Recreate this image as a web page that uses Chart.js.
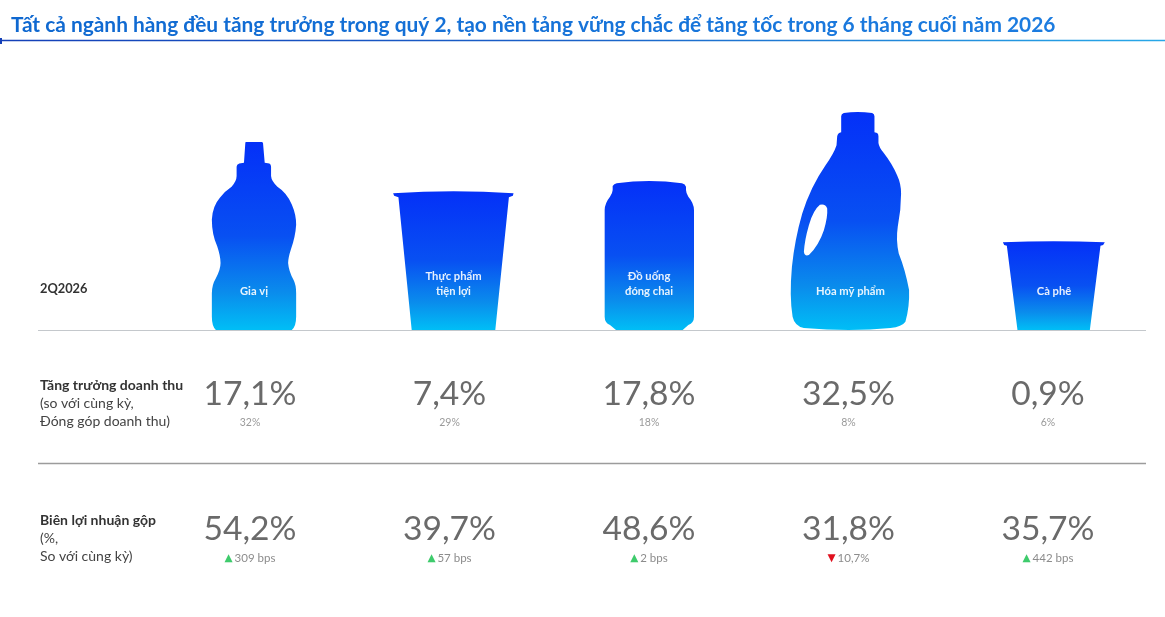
<!DOCTYPE html>
<html lang="vi">
<head>
<meta charset="utf-8">
<title>2Q2026</title>
<style>
  html, body { margin: 0; padding: 0; background: #fff; overflow: hidden; }
  canvas { display: block; filter: blur(0.4px); }
</style>
<script src="https://cdn.jsdelivr.net/npm/chart.js@4"></script>
</head>
<body>
<canvas id="chart_nganh" width="1165" height="617"></canvas>
<script>
  const titulo = 'Tất cả ngành hàng đều tăng trưởng trong quý 2, tạo nền tảng vững chắc để tăng tốc trong 6 tháng cuối năm 2026';
  const categories = ['Gia vị', 'Thực phẩm tiện lợi', 'Đồ uống đóng chai', 'Hóa mỹ phẩm', 'Cà phê'];
  const categoryLines = [['Gia vị'], ['Thực phẩm', 'tiện lợi'], ['Đồ uống', 'đóng chai'], ['Hóa mỹ phẩm'], ['Cà phê']];
  const bottleLevels = [188, 139, 149, 218, 89];
  const revenueGrowth = [17.1, 7.4, 17.8, 32.5, 0.9];
  const revenueShare = [32, 29, 18, 8, 6];
  const grossMargin = [54.2, 39.7, 48.6, 31.8, 35.7];
  const marginChange = ['309 bps', '57 bps', '2 bps', '10,7%', '442 bps'];
  const marginDirection = [1, 1, 1, -1, 1];

  const periodLabel = '2Q2026';
  const growthLabel = ['Tăng trưởng doanh thu', '(so với cùng kỳ,', 'Đóng góp doanh thu)'];
  const marginLabel = ['Biên lợi nhuận gộp', '(%,', 'So với cùng kỳ)'];

  // silhouettes, scaled to each bar's height
  const shapes = [
    { cx: 192, base: 600, top: 38, dx: 4, d: 'M168 38 L215 38 Q218 38 219 42 L224 100 L238 102 Q243 104 243 112 L243 140 Q244 155 262 172 Q290 190 305 225 Q318 255 318 285 Q316 320 302 360 Q294 385 294 400 Q296 425 310 450 Q318 465 318 490 L318 560 Q318 590 305 600 L78 600 Q66 590 66 560 L66 490 Q66 465 78 445 Q92 420 92 400 Q92 380 82 350 Q66 315 66 270 Q68 230 90 205 Q105 185 125 172 Q140 155 140 140 L140 112 Q140 104 148 102 L162 100 L166 42 Q166 38 168 38 Z' },
    { cx: 789, base: 600, top: 181, dx: 4, d: 'M607 188 Q790 176 970 188 L968 195 L956 200 L915 600 L663 600 L623 200 L610 195 Z' },
    { cx: 177, base: 690, top: 243, dx: 0, d: 'M68 258 Q72 252 80 250 Q178 236 276 250 Q286 252 288 260 L288 270 Q288 278 295 290 Q312 310 312 330 L312 650 Q312 668 295 675 L278 690 L78 690 L60 675 Q44 668 44 650 L44 330 Q44 310 60 290 Q68 278 68 270 Z' },
    { cx: 780, base: 690, top: 35, dx: 2, d: 'M760 38 Q800 32 845 38 Q852 40 852 48 L852 96 L860 98 Q864 100 864 108 L864 128 Q866 142 880 158 Q905 190 920 225 Q932 250 932 280 Q932 330 922 380 Q916 420 925 460 Q945 510 956 570 Q958 620 945 665 Q935 680 900 684 Q780 696 640 684 Q612 678 606 650 Q596 590 604 500 Q612 420 635 340 Q660 260 705 195 Q730 160 738 135 L740 108 Q742 98 752 96 L752 48 Q752 40 760 38 Z M688 314 Q705 310 710 325 Q712 350 700 390 Q685 435 655 465 Q642 470 640 455 Q642 420 655 375 Q668 330 688 314 Z' },
    { cx: 192, base: 300, top: 32, dx: 6, d: 'M38 36 Q190 30 345 36 L340 44 L332 46 L300 300 L82 300 L50 46 L42 44 Z' }
  ];

  const FONT = 'Lato, "Noto Sans", sans-serif';

  function percent(v) {
    return v.toFixed(1).replace('.', ',') + '%';
  }

  // clip the bars to the bottles
  const bottleClip = {
    id: 'bottleClip',
    beforeDatasetDraw(chart) {
      const ctx = chart.ctx;
      const bars = chart.getDatasetMeta(0).data;
      const all = new Path2D();
      bars.forEach((bar, i) => {
        const s = shapes[i];
        const k = (bar.base - bar.y) / (s.base - s.top);
        const m = new DOMMatrix([k, 0, 0, k, bar.x + s.dx - s.cx * k, bar.base - s.base * k]);
        all.addPath(new Path2D(s.d), m);
      });
      ctx.save();
      ctx.clip(all, 'evenodd');
    },
    afterDatasetDraw(chart) {
      chart.ctx.restore();
    }
  };

  function text(ctx, str, x, y, font, color, align) {
    ctx.font = font;
    ctx.fillStyle = color;
    ctx.textAlign = align || 'left';
    ctx.textBaseline = 'middle';
    ctx.fillText(str, x, y);
  }

  function hline(ctx, x1, x2, y, color, width) {
    ctx.beginPath();
    ctx.moveTo(x1, y);
    ctx.lineTo(x2, y);
    ctx.strokeStyle = color;
    ctx.lineWidth = width;
    ctx.stroke();
  }

  const slideText = {
    id: 'slideText',
    afterDraw(chart) {
      const ctx = chart.ctx;
      const bars = chart.getDatasetMeta(0).data;
      ctx.save();

      // titulo
      const tg = ctx.createLinearGradient(10, 0, 1056, 0);
      tg.addColorStop(0, '#0f68d0');
      tg.addColorStop(1, '#1c7ce0');
      text(ctx, titulo, 11, 25.5, 'bold 20.9px ' + FONT, tg);

      const lg = ctx.createLinearGradient(0, 0, 1165, 0);
      lg.addColorStop(0, '#1440b8');
      lg.addColorStop(0.5, '#1a62c8');
      lg.addColorStop(1, '#27a8e8');
      hline(ctx, 0, 1165, 40.5, lg, 1.5);
      ctx.fillStyle = '#1440b8';
      ctx.fillRect(0, 38, 2, 6);

      // linhas da tabela
      hline(ctx, 38, 1146, 330.5, '#c4c8cc', 1.2);
      hline(ctx, 38, 1146, 463.5, '#9c9c9c', 1.4);

      text(ctx, periodLabel, 40, 288.5, 'bold 12.8px ' + FONT, '#333');
      growthLabel.forEach((l, i) => text(ctx, l, 40, 385.5 + i * 18, (i == 0 ? 'bold ' : '') + '14px ' + FONT, i == 0 ? '#333' : '#444'));
      marginLabel.forEach((l, i) => text(ctx, l, 40, 520.5 + i * 18, (i == 0 ? 'bold ' : '') + '14px ' + FONT, i == 0 ? '#333' : '#444'));

      bars.forEach((bar, i) => {
        // nome dentro da garrafa
        const lines = categoryLines[i];
        lines.forEach((l, j) => {
          const y = 291 - (lines.length - 1 - j) * 15;
          text(ctx, l, bar.x + shapes[i].dx, y, 'bold 11.2px ' + FONT, 'rgba(255,255,255,0.9)', 'center');
        });

        text(ctx, percent(revenueGrowth[i]), bar.x, 394.5, '33.6px ' + FONT, '#6a6a6a', 'center');
        text(ctx, revenueShare[i] + '%', bar.x, 422.5, '10.5px ' + FONT, '#9a9a9a', 'center');
        text(ctx, percent(grossMargin[i]), bar.x, 529.5, '33.6px ' + FONT, '#6a6a6a', 'center');

        const up = marginDirection[i] > 0;
        ctx.font = '11.5px ' + FONT;
        const w = ctx.measureText(marginChange[i]).width + 10;
        const x0 = bar.x - w / 2;
        text(ctx, up ? '▲' : '▼', x0 + 4, 558, '10.5px "DejaVu Sans"', up ? '#3ecb6c' : '#e0101e', 'center');
        text(ctx, marginChange[i], x0 + 10, 558, '11.5px ' + FONT, '#8c8c8c');
      });
      ctx.restore();
    }
  };

  function bottleFill(context) {
    const chart = context.chart;
    if (!chart.chartArea || context.parsed == undefined) return '#0a40f0';
    const y = chart.scales.y;
    const g = chart.ctx.createLinearGradient(0, y.getPixelForValue(context.parsed.y), 0, y.getPixelForValue(0));
    g.addColorStop(0, '#0430f8');
    g.addColorStop(0.5, '#0850f2');
    g.addColorStop(0.8, '#0a8cec');
    g.addColorStop(1, '#00bef6');
    return g;
  }

  new Chart(document.getElementById('chart_nganh'), {
    type: 'bar',
    data: {
      labels: categories,
      datasets: [{
        data: bottleLevels,
        backgroundColor: bottleFill,
        borderWidth: 0,
        barPercentage: 1,
        categoryPercentage: 1
      }]
    },
    options: {
      responsive: false,
      animation: false,
      layout: { padding: { left: 150.25, right: 17.25, top: 90, bottom: 287 } },
      plugins: { legend: { display: false }, tooltip: { enabled: false } },
      scales: {
        x: { display: false },
        y: { display: false, min: 0, max: 240 }
      }
    },
    plugins: [bottleClip, slideText]
  });
</script>
</body>
</html>
